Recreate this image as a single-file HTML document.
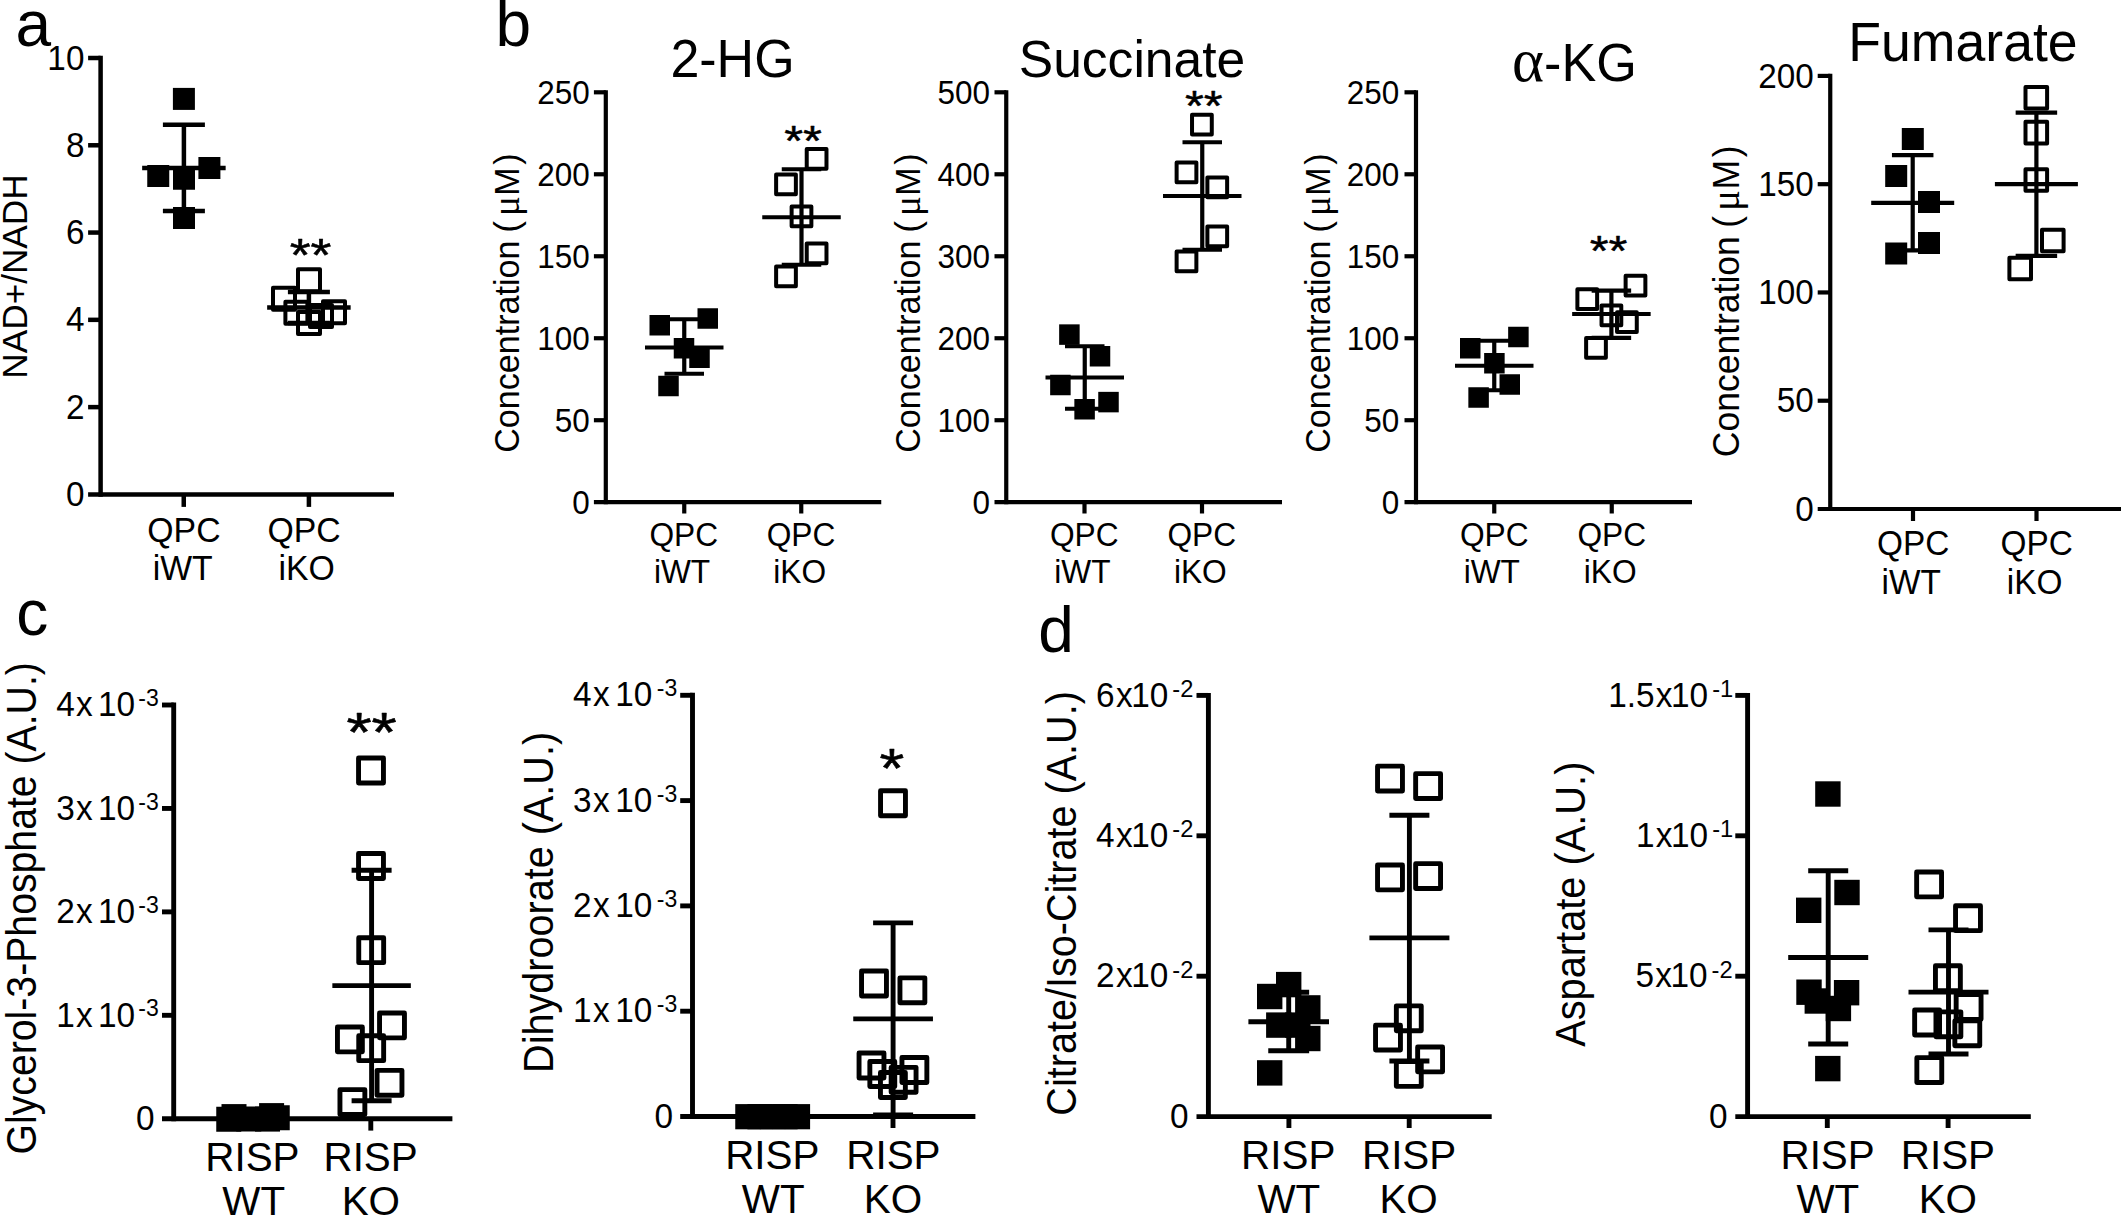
<!DOCTYPE html>
<html lang="en">
<head>
<meta charset="utf-8">
<title>Figure: NAD+/NADH, TCA metabolites, RISP KO</title>
<style>
html,body{margin:0;padding:0;background:#fff;}
body{width:2121px;height:1217px;overflow:hidden;}
svg{display:block;}
svg text{font-family:'Liberation Sans', Arial, Helvetica, sans-serif;fill:#000;}
svg line, svg rect{stroke:#000;}
svg rect[fill="#000"]{stroke:none;}
.sym{font-family:'Liberation Serif', 'DejaVu Serif', serif;}
</style>
</head>
<body>
<svg width="2121" height="1217" viewBox="0 0 2121 1217">
<rect x="0" y="0" width="2121" height="1217" fill="#fff" stroke="none" style="stroke:none"/>
<g class="panel">
<line x1="100.6" y1="55.75" x2="100.6" y2="496.65" stroke-width="4.5"/>
<line x1="88.1" y1="494.4" x2="394" y2="494.4" stroke-width="4.5"/>
<line x1="88.1" y1="58" x2="100.6" y2="58" stroke-width="4.5"/>
<line x1="88.1" y1="145.28" x2="100.6" y2="145.28" stroke-width="4.5"/>
<line x1="88.1" y1="232.56" x2="100.6" y2="232.56" stroke-width="4.5"/>
<line x1="88.1" y1="319.84" x2="100.6" y2="319.84" stroke-width="4.5"/>
<line x1="88.1" y1="407.12" x2="100.6" y2="407.12" stroke-width="4.5"/>
<text transform="translate(84.4 69.66) scale(1 1.045)" font-size="33.3" text-anchor="end">10</text>
<text transform="translate(84.4 156.94) scale(1 1.045)" font-size="33.3" text-anchor="end">8</text>
<text transform="translate(84.4 244.22) scale(1 1.045)" font-size="33.3" text-anchor="end">6</text>
<text transform="translate(84.4 331.49) scale(1 1.045)" font-size="33.3" text-anchor="end">4</text>
<text transform="translate(84.4 418.77) scale(1 1.045)" font-size="33.3" text-anchor="end">2</text>
<text transform="translate(84.4 506.05) scale(1 1.045)" font-size="33.3" text-anchor="end">0</text>
<line x1="183.75" y1="494.4" x2="183.75" y2="506.9" stroke-width="4.5"/>
<line x1="308.9" y1="494.4" x2="308.9" y2="506.9" stroke-width="4.5"/>
<text transform="translate(183.95 541.9) scale(1 1.045)" font-size="33.8" text-anchor="middle">QPC</text>
<text transform="translate(182.66 580) scale(1 1.045)" font-size="33.8" text-anchor="middle">iWT</text>
<text transform="translate(304.05 541.9) scale(1 1.045)" font-size="33.8" text-anchor="middle">QPC</text>
<text transform="translate(306.68 580) scale(1 1.045)" font-size="33.8" text-anchor="middle">iKO</text>
<text transform="translate(27 276.5) rotate(-90) scale(1 1.020)" font-size="35.2" text-anchor="middle">NAD+/NADH</text>
<rect x="172.9" y="87.9" width="22" height="22" fill="#000"/>
<rect x="147.25" y="165" width="22" height="22" fill="#000"/>
<rect x="173" y="167.75" width="22" height="22" fill="#000"/>
<rect x="198.4" y="157" width="22" height="22" fill="#000"/>
<rect x="173" y="207" width="22" height="22" fill="#000"/>
<rect x="298" y="269.25" width="22" height="22" fill="none" stroke-width="4" stroke-linejoin="round"/>
<rect x="273" y="287.8" width="22" height="22" fill="none" stroke-width="4" stroke-linejoin="round"/>
<rect x="285.4" y="301.75" width="22" height="22" fill="none" stroke-width="4" stroke-linejoin="round"/>
<rect x="298" y="312" width="22" height="22" fill="none" stroke-width="4" stroke-linejoin="round"/>
<rect x="310" y="305" width="22" height="22" fill="none" stroke-width="4" stroke-linejoin="round"/>
<rect x="323" y="301.25" width="22" height="22" fill="none" stroke-width="4" stroke-linejoin="round"/>
<line x1="183.9" y1="124.8" x2="183.9" y2="211" stroke-width="4.5"/>
<line x1="162.9" y1="124.8" x2="204.9" y2="124.8" stroke-width="4.5"/>
<line x1="162.9" y1="211" x2="204.9" y2="211" stroke-width="4.5"/>
<line x1="142.15" y1="167.9" x2="225.65" y2="167.9" stroke-width="4.5"/>
<line x1="308.9" y1="291.9" x2="308.9" y2="322.9" stroke-width="4.5"/>
<line x1="287.9" y1="291.9" x2="329.9" y2="291.9" stroke-width="4.5"/>
<line x1="287.9" y1="322.9" x2="329.9" y2="322.9" stroke-width="4.5"/>
<line x1="267.15" y1="307.4" x2="350.65" y2="307.4" stroke-width="4.5"/>
<text transform="translate(310.6 270.6) scale(1 0.870)" font-size="53.6" text-anchor="middle" stroke="#000" stroke-width="0.59" stroke-linejoin="round">**</text>
</g>
<g class="panel">
<line x1="605.8" y1="90.2" x2="605.8" y2="504.3" stroke-width="4.2"/>
<line x1="593.9" y1="502.2" x2="881.25" y2="502.2" stroke-width="4.2"/>
<line x1="593.9" y1="92.3" x2="605.8" y2="92.3" stroke-width="4.2"/>
<line x1="593.9" y1="174.28" x2="605.8" y2="174.28" stroke-width="4.2"/>
<line x1="593.9" y1="256.26" x2="605.8" y2="256.26" stroke-width="4.2"/>
<line x1="593.9" y1="338.24" x2="605.8" y2="338.24" stroke-width="4.2"/>
<line x1="593.9" y1="420.22" x2="605.8" y2="420.22" stroke-width="4.2"/>
<text transform="translate(589.7 103.7) scale(1 1.045)" font-size="31.5" text-anchor="end">250</text>
<text transform="translate(589.7 185.68) scale(1 1.045)" font-size="31.5" text-anchor="end">200</text>
<text transform="translate(589.7 267.66) scale(1 1.045)" font-size="31.5" text-anchor="end">150</text>
<text transform="translate(589.7 349.64) scale(1 1.045)" font-size="31.5" text-anchor="end">100</text>
<text transform="translate(589.7 431.62) scale(1 1.045)" font-size="31.5" text-anchor="end">50</text>
<text transform="translate(589.7 513.6) scale(1 1.045)" font-size="31.5" text-anchor="end">0</text>
<line x1="684.25" y1="502.2" x2="684.25" y2="513.5" stroke-width="4.2"/>
<line x1="801.25" y1="502.2" x2="801.25" y2="513.5" stroke-width="4.2"/>
<text transform="translate(683.76 546) scale(1 1.045)" font-size="31.7" text-anchor="middle">QPC</text>
<text transform="translate(682.05 582.75) scale(1 1.045)" font-size="31.7" text-anchor="middle">iWT</text>
<text transform="translate(800.96 546) scale(1 1.045)" font-size="31.7" text-anchor="middle">QPC</text>
<text transform="translate(799.7 582.75) scale(1 1.045)" font-size="31.7" text-anchor="middle">iKO</text>
<text transform="translate(519.4 303.1) rotate(-90) scale(1 1.040)" font-size="34.1" text-anchor="middle">Concentration<tspan dx="-1.30"> (</tspan><tspan class="sym" dx="5.00" font-size="1.083em">μ</tspan><tspan dx="0.60">M</tspan><tspan dx="2.50">)</tspan></text>
<text transform="translate(732.5 77.4) scale(1 1.020)" font-size="52" text-anchor="middle">2-HG</text>
<rect x="649.5" y="315" width="20.5" height="20.5" fill="#000"/>
<rect x="697.5" y="308.25" width="20.5" height="20.5" fill="#000"/>
<rect x="673.75" y="338" width="20.5" height="20.5" fill="#000"/>
<rect x="689.25" y="347.5" width="20.5" height="20.5" fill="#000"/>
<rect x="658.25" y="375.75" width="20.5" height="20.5" fill="#000"/>
<rect x="806.73" y="148.88" width="19.75" height="19.75" fill="none" stroke-width="4" stroke-linejoin="round"/>
<rect x="776.12" y="174.38" width="19.75" height="19.75" fill="none" stroke-width="4" stroke-linejoin="round"/>
<rect x="791.62" y="206.38" width="19.75" height="19.75" fill="none" stroke-width="4" stroke-linejoin="round"/>
<rect x="806.73" y="243.38" width="19.75" height="19.75" fill="none" stroke-width="4" stroke-linejoin="round"/>
<rect x="776.12" y="266.38" width="19.75" height="19.75" fill="none" stroke-width="4" stroke-linejoin="round"/>
<line x1="684.25" y1="319.25" x2="684.25" y2="373.75" stroke-width="4.2"/>
<line x1="664.5" y1="319.25" x2="704" y2="319.25" stroke-width="4.2"/>
<line x1="664.5" y1="373.75" x2="704" y2="373.75" stroke-width="4.2"/>
<line x1="645" y1="347.5" x2="723.5" y2="347.5" stroke-width="4.2"/>
<line x1="801.5" y1="169.25" x2="801.5" y2="264.75" stroke-width="4.2"/>
<line x1="781.75" y1="169.25" x2="821.25" y2="169.25" stroke-width="4.2"/>
<line x1="781.75" y1="264.75" x2="821.25" y2="264.75" stroke-width="4.2"/>
<line x1="762.25" y1="217.25" x2="840.75" y2="217.25" stroke-width="4.2"/>
<text transform="translate(803 155) scale(1 0.870)" font-size="48.4" text-anchor="middle" stroke="#000" stroke-width="0.53" stroke-linejoin="round">**</text>
</g>
<g class="panel">
<line x1="1006.25" y1="90.2" x2="1006.25" y2="504.3" stroke-width="4.2"/>
<line x1="994.5" y1="502.2" x2="1282" y2="502.2" stroke-width="4.2"/>
<line x1="994.5" y1="92.3" x2="1006.25" y2="92.3" stroke-width="4.2"/>
<line x1="994.5" y1="174.28" x2="1006.25" y2="174.28" stroke-width="4.2"/>
<line x1="994.5" y1="256.26" x2="1006.25" y2="256.26" stroke-width="4.2"/>
<line x1="994.5" y1="338.24" x2="1006.25" y2="338.24" stroke-width="4.2"/>
<line x1="994.5" y1="420.22" x2="1006.25" y2="420.22" stroke-width="4.2"/>
<text transform="translate(990 103.7) scale(1 1.045)" font-size="31.5" text-anchor="end">500</text>
<text transform="translate(990 185.68) scale(1 1.045)" font-size="31.5" text-anchor="end">400</text>
<text transform="translate(990 267.66) scale(1 1.045)" font-size="31.5" text-anchor="end">300</text>
<text transform="translate(990 349.64) scale(1 1.045)" font-size="31.5" text-anchor="end">200</text>
<text transform="translate(990 431.62) scale(1 1.045)" font-size="31.5" text-anchor="end">100</text>
<text transform="translate(990 513.6) scale(1 1.045)" font-size="31.5" text-anchor="end">0</text>
<line x1="1084.5" y1="502.2" x2="1084.5" y2="513.5" stroke-width="4.2"/>
<line x1="1202" y1="502.2" x2="1202" y2="513.5" stroke-width="4.2"/>
<text transform="translate(1084.26 546) scale(1 1.045)" font-size="31.7" text-anchor="middle">QPC</text>
<text transform="translate(1082.4 582.75) scale(1 1.045)" font-size="31.7" text-anchor="middle">iWT</text>
<text transform="translate(1201.76 546) scale(1 1.045)" font-size="31.7" text-anchor="middle">QPC</text>
<text transform="translate(1200.3 582.75) scale(1 1.045)" font-size="31.7" text-anchor="middle">iKO</text>
<text transform="translate(920 303.1) rotate(-90) scale(1 1.040)" font-size="34.1" text-anchor="middle">Concentration<tspan dx="-1.30"> (</tspan><tspan class="sym" dx="5.00" font-size="1.083em">μ</tspan><tspan dx="0.60">M</tspan><tspan dx="2.50">)</tspan></text>
<text transform="translate(1132 77) scale(1 1.020)" font-size="51.6" text-anchor="middle">Succinate</text>
<rect x="1059.15" y="324.35" width="20.5" height="20.5" fill="#000"/>
<rect x="1089.75" y="346" width="20.5" height="20.5" fill="#000"/>
<rect x="1050.15" y="374.75" width="20.5" height="20.5" fill="#000"/>
<rect x="1098.25" y="391.85" width="20.5" height="20.5" fill="#000"/>
<rect x="1074.35" y="399" width="20.5" height="20.5" fill="#000"/>
<rect x="1192.03" y="114.72" width="19.75" height="19.75" fill="none" stroke-width="4" stroke-linejoin="round"/>
<rect x="1176.62" y="162.62" width="19.75" height="19.75" fill="none" stroke-width="4" stroke-linejoin="round"/>
<rect x="1207.38" y="177.62" width="19.75" height="19.75" fill="none" stroke-width="4" stroke-linejoin="round"/>
<rect x="1207.38" y="226.38" width="19.75" height="19.75" fill="none" stroke-width="4" stroke-linejoin="round"/>
<rect x="1176.62" y="251.38" width="19.75" height="19.75" fill="none" stroke-width="4" stroke-linejoin="round"/>
<line x1="1084.75" y1="346.25" x2="1084.75" y2="408.75" stroke-width="4.2"/>
<line x1="1065" y1="346.25" x2="1104.5" y2="346.25" stroke-width="4.2"/>
<line x1="1065" y1="408.75" x2="1104.5" y2="408.75" stroke-width="4.2"/>
<line x1="1045.5" y1="377.5" x2="1124" y2="377.5" stroke-width="4.2"/>
<line x1="1202.25" y1="142.25" x2="1202.25" y2="249.75" stroke-width="4.2"/>
<line x1="1182.5" y1="142.25" x2="1222" y2="142.25" stroke-width="4.2"/>
<line x1="1182.5" y1="249.75" x2="1222" y2="249.75" stroke-width="4.2"/>
<line x1="1163" y1="196" x2="1241.5" y2="196" stroke-width="4.2"/>
<text transform="translate(1203.75 120) scale(1 0.870)" font-size="48.4" text-anchor="middle" stroke="#000" stroke-width="0.53" stroke-linejoin="round">**</text>
</g>
<g class="panel">
<line x1="1416" y1="90.2" x2="1416" y2="504.3" stroke-width="4.2"/>
<line x1="1404.5" y1="502.2" x2="1692" y2="502.2" stroke-width="4.2"/>
<line x1="1404.5" y1="92.3" x2="1416" y2="92.3" stroke-width="4.2"/>
<line x1="1404.5" y1="174.28" x2="1416" y2="174.28" stroke-width="4.2"/>
<line x1="1404.5" y1="256.26" x2="1416" y2="256.26" stroke-width="4.2"/>
<line x1="1404.5" y1="338.24" x2="1416" y2="338.24" stroke-width="4.2"/>
<line x1="1404.5" y1="420.22" x2="1416" y2="420.22" stroke-width="4.2"/>
<text transform="translate(1399.3 103.7) scale(1 1.045)" font-size="31.5" text-anchor="end">250</text>
<text transform="translate(1399.3 185.68) scale(1 1.045)" font-size="31.5" text-anchor="end">200</text>
<text transform="translate(1399.3 267.66) scale(1 1.045)" font-size="31.5" text-anchor="end">150</text>
<text transform="translate(1399.3 349.64) scale(1 1.045)" font-size="31.5" text-anchor="end">100</text>
<text transform="translate(1399.3 431.62) scale(1 1.045)" font-size="31.5" text-anchor="end">50</text>
<text transform="translate(1399.3 513.6) scale(1 1.045)" font-size="31.5" text-anchor="end">0</text>
<line x1="1494.25" y1="502.2" x2="1494.25" y2="513.5" stroke-width="4.2"/>
<line x1="1611.75" y1="502.2" x2="1611.75" y2="513.5" stroke-width="4.2"/>
<text transform="translate(1494.26 546) scale(1 1.045)" font-size="31.7" text-anchor="middle">QPC</text>
<text transform="translate(1491.8 582.75) scale(1 1.045)" font-size="31.7" text-anchor="middle">iWT</text>
<text transform="translate(1611.76 546) scale(1 1.045)" font-size="31.7" text-anchor="middle">QPC</text>
<text transform="translate(1610.2 582.75) scale(1 1.045)" font-size="31.7" text-anchor="middle">iKO</text>
<text transform="translate(1330 303.1) rotate(-90) scale(1 1.040)" font-size="34.1" text-anchor="middle">Concentration<tspan dx="-1.30"> (</tspan><tspan class="sym" dx="5.00" font-size="1.083em">μ</tspan><tspan dx="0.60">M</tspan><tspan dx="2.50">)</tspan></text>
<text transform="translate(1574.5 81.25) scale(1 1.020)" font-size="52.2" text-anchor="middle"><tspan class="sym" font-size="1.17em">α</tspan>-KG</text>
<rect x="1460" y="338" width="20.5" height="20.5" fill="#000"/>
<rect x="1508.15" y="326.75" width="20.5" height="20.5" fill="#000"/>
<rect x="1484.15" y="353" width="20.5" height="20.5" fill="#000"/>
<rect x="1499.5" y="374.25" width="20.5" height="20.5" fill="#000"/>
<rect x="1468.35" y="387.25" width="20.5" height="20.5" fill="#000"/>
<rect x="1625.62" y="275.73" width="19.75" height="19.75" fill="none" stroke-width="4" stroke-linejoin="round"/>
<rect x="1577.38" y="289.23" width="19.75" height="19.75" fill="none" stroke-width="4" stroke-linejoin="round"/>
<rect x="1601.53" y="305.52" width="19.75" height="19.75" fill="none" stroke-width="4" stroke-linejoin="round"/>
<rect x="1617.03" y="312.23" width="19.75" height="19.75" fill="none" stroke-width="4" stroke-linejoin="round"/>
<rect x="1586.12" y="338.12" width="19.75" height="19.75" fill="none" stroke-width="4" stroke-linejoin="round"/>
<line x1="1494.25" y1="340.75" x2="1494.25" y2="390.25" stroke-width="4.2"/>
<line x1="1474.5" y1="340.75" x2="1514" y2="340.75" stroke-width="4.2"/>
<line x1="1474.5" y1="390.25" x2="1514" y2="390.25" stroke-width="4.2"/>
<line x1="1455" y1="365.75" x2="1533.5" y2="365.75" stroke-width="4.2"/>
<line x1="1611.4" y1="290.7" x2="1611.4" y2="337.8" stroke-width="4.2"/>
<line x1="1591.65" y1="290.7" x2="1631.15" y2="290.7" stroke-width="4.2"/>
<line x1="1591.65" y1="337.8" x2="1631.15" y2="337.8" stroke-width="4.2"/>
<line x1="1572.15" y1="314" x2="1650.65" y2="314" stroke-width="4.2"/>
<text transform="translate(1608.5 264.6) scale(1 0.870)" font-size="48.4" text-anchor="middle" stroke="#000" stroke-width="0.53" stroke-linejoin="round">**</text>
</g>
<g class="panel">
<line x1="1830.25" y1="73.8" x2="1830.25" y2="511.1" stroke-width="4.2"/>
<line x1="1817.7" y1="509" x2="2123" y2="509" stroke-width="4.2"/>
<line x1="1817.7" y1="75.9" x2="1830.25" y2="75.9" stroke-width="4.2"/>
<line x1="1817.7" y1="184.18" x2="1830.25" y2="184.18" stroke-width="4.2"/>
<line x1="1817.7" y1="292.45" x2="1830.25" y2="292.45" stroke-width="4.2"/>
<line x1="1817.7" y1="400.73" x2="1830.25" y2="400.73" stroke-width="4.2"/>
<text transform="translate(1813.8 87.56) scale(1 1.045)" font-size="33.3" text-anchor="end">200</text>
<text transform="translate(1813.8 195.83) scale(1 1.045)" font-size="33.3" text-anchor="end">150</text>
<text transform="translate(1813.8 304.11) scale(1 1.045)" font-size="33.3" text-anchor="end">100</text>
<text transform="translate(1813.8 412.38) scale(1 1.045)" font-size="33.3" text-anchor="end">50</text>
<text transform="translate(1813.8 520.65) scale(1 1.045)" font-size="33.3" text-anchor="end">0</text>
<line x1="1913" y1="509" x2="1913" y2="521" stroke-width="4.2"/>
<line x1="2036.5" y1="509" x2="2036.5" y2="521" stroke-width="4.2"/>
<text transform="translate(1913.1 555.25) scale(1 1.045)" font-size="33.4" text-anchor="middle">QPC</text>
<text transform="translate(1911.17 593.5) scale(1 1.045)" font-size="33.4" text-anchor="middle">iWT</text>
<text transform="translate(2036.75 555.25) scale(1 1.045)" font-size="33.4" text-anchor="middle">QPC</text>
<text transform="translate(2034.68 593.5) scale(1 1.045)" font-size="33.4" text-anchor="middle">iKO</text>
<text transform="translate(1739 301.3) rotate(-90) scale(1 1.020)" font-size="35.5" text-anchor="middle">Concentration<tspan dx="-1.35"> (</tspan><tspan class="sym" dx="5.20" font-size="1.083em">μ</tspan><tspan dx="0.62">M</tspan><tspan dx="2.60">)</tspan></text>
<text transform="translate(1963 60.5) scale(1 1.020)" font-size="53.6" text-anchor="middle">Fumarate</text>
<rect x="1901.8" y="128" width="22" height="22" fill="#000"/>
<rect x="1885.2" y="165" width="22" height="22" fill="#000"/>
<rect x="1918" y="191" width="22" height="22" fill="#000"/>
<rect x="1918" y="232" width="22" height="22" fill="#000"/>
<rect x="1885.2" y="242.5" width="22" height="22" fill="#000"/>
<rect x="2025.5" y="87" width="21.6" height="21.6" fill="none" stroke-width="4" stroke-linejoin="round"/>
<rect x="2025.5" y="121.8" width="21.6" height="21.6" fill="none" stroke-width="4" stroke-linejoin="round"/>
<rect x="2025.5" y="169.2" width="21.6" height="21.6" fill="none" stroke-width="4" stroke-linejoin="round"/>
<rect x="2042" y="229.7" width="21.6" height="21.6" fill="none" stroke-width="4" stroke-linejoin="round"/>
<rect x="2009.4" y="257.7" width="21.6" height="21.6" fill="none" stroke-width="4" stroke-linejoin="round"/>
<line x1="1912.7" y1="155.2" x2="1912.7" y2="250.4" stroke-width="4.2"/>
<line x1="1891.95" y1="155.2" x2="1933.45" y2="155.2" stroke-width="4.2"/>
<line x1="1891.95" y1="250.4" x2="1933.45" y2="250.4" stroke-width="4.2"/>
<line x1="1871.2" y1="202.8" x2="1954.2" y2="202.8" stroke-width="4.2"/>
<line x1="2036.4" y1="112.6" x2="2036.4" y2="255.8" stroke-width="4.2"/>
<line x1="2015.65" y1="112.6" x2="2057.15" y2="112.6" stroke-width="4.2"/>
<line x1="2015.65" y1="255.8" x2="2057.15" y2="255.8" stroke-width="4.2"/>
<line x1="1994.9" y1="184.2" x2="2077.9" y2="184.2" stroke-width="4.2"/>
</g>
<g class="panel">
<line x1="173.7" y1="702.55" x2="173.7" y2="1121.2" stroke-width="4.9"/>
<line x1="162" y1="1118.75" x2="452.4" y2="1118.75" stroke-width="4.9"/>
<line x1="162" y1="705" x2="173.7" y2="705" stroke-width="4.9"/>
<line x1="162" y1="808.44" x2="173.7" y2="808.44" stroke-width="4.9"/>
<line x1="162" y1="911.88" x2="173.7" y2="911.88" stroke-width="4.9"/>
<line x1="162" y1="1015.31" x2="173.7" y2="1015.31" stroke-width="4.9"/>
<text transform="translate(158.8 716.19) scale(1 1.045)" font-size="33.4" text-anchor="end">4<tspan dx="1.3">x</tspan><tspan dx="5.2">10</tspan><tspan dx="3.25" dy="-9.69" font-size="23.05">-3</tspan></text>
<text transform="translate(158.8 819.63) scale(1 1.045)" font-size="33.4" text-anchor="end">3<tspan dx="1.3">x</tspan><tspan dx="5.2">10</tspan><tspan dx="3.25" dy="-9.69" font-size="23.05">-3</tspan></text>
<text transform="translate(158.8 923.06) scale(1 1.045)" font-size="33.4" text-anchor="end">2<tspan dx="1.3">x</tspan><tspan dx="5.2">10</tspan><tspan dx="3.25" dy="-9.69" font-size="23.05">-3</tspan></text>
<text transform="translate(158.8 1026.5) scale(1 1.045)" font-size="33.4" text-anchor="end">1<tspan dx="1.3">x</tspan><tspan dx="5.2">10</tspan><tspan dx="3.25" dy="-9.69" font-size="23.05">-3</tspan></text>
<text transform="translate(154.5 1129.94) scale(1 1.045)" font-size="33.4" text-anchor="end">0</text>
<line x1="253" y1="1118.75" x2="253" y2="1130.6" stroke-width="4.9"/>
<line x1="370.8" y1="1118.75" x2="370.8" y2="1130.6" stroke-width="4.9"/>
<text transform="translate(252.41 1170.9) scale(1 1.010)" font-size="40.4" text-anchor="middle">RISP</text>
<text transform="translate(253.66 1215.4) scale(1 1.010)" font-size="40.4" text-anchor="middle">WT</text>
<text transform="translate(370.61 1170.9) scale(1 1.010)" font-size="40.4" text-anchor="middle">RISP</text>
<text transform="translate(370.86 1215.4) scale(1 1.010)" font-size="40.4" text-anchor="middle">KO</text>
<text transform="translate(36.25 908.3) rotate(-90) scale(1 1.075)" font-size="39.2" text-anchor="middle">Glycerol-3-Phosphate (A.U.)</text>
<rect x="216.25" y="1106.75" width="25" height="25" fill="#000"/>
<rect x="221.5" y="1104.1" width="25" height="25" fill="#000"/>
<rect x="236.25" y="1106.5" width="25" height="25" fill="#000"/>
<rect x="255" y="1106.6" width="25" height="25" fill="#000"/>
<rect x="259.1" y="1103.1" width="25" height="25" fill="#000"/>
<rect x="264.75" y="1105.25" width="25" height="25" fill="#000"/>
<rect x="358.55" y="758.05" width="24.9" height="24.9" fill="none" stroke-width="4.9" stroke-linejoin="round"/>
<rect x="358.55" y="853.55" width="24.9" height="24.9" fill="none" stroke-width="4.9" stroke-linejoin="round"/>
<rect x="358.75" y="937.75" width="24.9" height="24.9" fill="none" stroke-width="4.9" stroke-linejoin="round"/>
<rect x="379.55" y="1012.95" width="24.9" height="24.9" fill="none" stroke-width="4.9" stroke-linejoin="round"/>
<rect x="337.45" y="1026.95" width="24.9" height="24.9" fill="none" stroke-width="4.9" stroke-linejoin="round"/>
<rect x="358.75" y="1035.75" width="24.9" height="24.9" fill="none" stroke-width="4.9" stroke-linejoin="round"/>
<rect x="377.05" y="1070.35" width="24.9" height="24.9" fill="none" stroke-width="4.9" stroke-linejoin="round"/>
<rect x="339.95" y="1089.65" width="24.9" height="24.9" fill="none" stroke-width="4.9" stroke-linejoin="round"/>
<line x1="371.6" y1="870.25" x2="371.6" y2="1100.8" stroke-width="4.9"/>
<line x1="351.6" y1="870.25" x2="391.6" y2="870.25" stroke-width="4.9"/>
<line x1="351.6" y1="1100.8" x2="391.6" y2="1100.8" stroke-width="4.9"/>
<line x1="332.35" y1="985.6" x2="410.85" y2="985.6" stroke-width="4.9"/>
<text transform="translate(371.6 750.5) scale(1 0.870)" font-size="64.7" text-anchor="middle" stroke="#000" stroke-width="0.71" stroke-linejoin="round">**</text>
</g>
<g class="panel">
<line x1="692.5" y1="692.85" x2="692.5" y2="1118.95" stroke-width="4.9"/>
<line x1="680.2" y1="1116.5" x2="975.4" y2="1116.5" stroke-width="4.9"/>
<line x1="680.2" y1="695.3" x2="692.5" y2="695.3" stroke-width="4.9"/>
<line x1="680.2" y1="800.6" x2="692.5" y2="800.6" stroke-width="4.9"/>
<line x1="680.2" y1="905.9" x2="692.5" y2="905.9" stroke-width="4.9"/>
<line x1="680.2" y1="1011.2" x2="692.5" y2="1011.2" stroke-width="4.9"/>
<text transform="translate(677.2 706.49) scale(1 1.045)" font-size="33.4" text-anchor="end">4<tspan dx="1.5">x</tspan><tspan dx="5.4">10</tspan><tspan dx="4.45" dy="-9.69" font-size="23.05">-3</tspan></text>
<text transform="translate(677.2 811.79) scale(1 1.045)" font-size="33.4" text-anchor="end">3<tspan dx="1.5">x</tspan><tspan dx="5.4">10</tspan><tspan dx="4.45" dy="-9.69" font-size="23.05">-3</tspan></text>
<text transform="translate(677.2 917.09) scale(1 1.045)" font-size="33.4" text-anchor="end">2<tspan dx="1.5">x</tspan><tspan dx="5.4">10</tspan><tspan dx="4.45" dy="-9.69" font-size="23.05">-3</tspan></text>
<text transform="translate(677.2 1022.39) scale(1 1.045)" font-size="33.4" text-anchor="end">1<tspan dx="1.5">x</tspan><tspan dx="5.4">10</tspan><tspan dx="4.45" dy="-9.69" font-size="23.05">-3</tspan></text>
<text transform="translate(673 1127.69) scale(1 1.045)" font-size="33.4" text-anchor="end">0</text>
<line x1="772.7" y1="1116.5" x2="772.7" y2="1128" stroke-width="4.9"/>
<line x1="893" y1="1116.5" x2="893" y2="1128" stroke-width="4.9"/>
<text transform="translate(772.31 1168.7) scale(1 1.010)" font-size="40.4" text-anchor="middle">RISP</text>
<text transform="translate(773.16 1213.4) scale(1 1.010)" font-size="40.4" text-anchor="middle">WT</text>
<text transform="translate(893.41 1168.7) scale(1 1.010)" font-size="40.4" text-anchor="middle">RISP</text>
<text transform="translate(893.01 1213.4) scale(1 1.010)" font-size="40.4" text-anchor="middle">KO</text>
<text transform="translate(552.8 902.4) rotate(-90) scale(1 1.090)" font-size="39.6" text-anchor="middle">Dihydroorate (A.U.)</text>
<rect x="735.25" y="1104.1" width="25.2" height="25.2" fill="#000"/>
<rect x="747.4" y="1104.1" width="25.2" height="25.2" fill="#000"/>
<rect x="759.9" y="1104.1" width="25.2" height="25.2" fill="#000"/>
<rect x="772.4" y="1104.1" width="25.2" height="25.2" fill="#000"/>
<rect x="784.9" y="1104.1" width="25.2" height="25.2" fill="#000"/>
<rect x="880.55" y="790.8" width="24.9" height="24.9" fill="none" stroke-width="4.9" stroke-linejoin="round"/>
<rect x="861.55" y="971.05" width="24.9" height="24.9" fill="none" stroke-width="4.9" stroke-linejoin="round"/>
<rect x="899.95" y="977.85" width="24.9" height="24.9" fill="none" stroke-width="4.9" stroke-linejoin="round"/>
<rect x="859.05" y="1053.05" width="24.9" height="24.9" fill="none" stroke-width="4.9" stroke-linejoin="round"/>
<rect x="901.95" y="1057.55" width="24.9" height="24.9" fill="none" stroke-width="4.9" stroke-linejoin="round"/>
<rect x="869.85" y="1061.55" width="24.9" height="24.9" fill="none" stroke-width="4.9" stroke-linejoin="round"/>
<rect x="891.15" y="1067.35" width="24.9" height="24.9" fill="none" stroke-width="4.9" stroke-linejoin="round"/>
<rect x="880.45" y="1072.55" width="24.9" height="24.9" fill="none" stroke-width="4.9" stroke-linejoin="round"/>
<line x1="893.1" y1="922.9" x2="893.1" y2="1114.9" stroke-width="4.9"/>
<line x1="873.1" y1="922.9" x2="913.1" y2="922.9" stroke-width="4.9"/>
<line x1="873.1" y1="1114.9" x2="913.1" y2="1114.9" stroke-width="4.9"/>
<line x1="853.25" y1="1018.9" x2="932.95" y2="1018.9" stroke-width="4.9"/>
<text transform="translate(891.9 787.2) scale(1 0.870)" font-size="63.5" text-anchor="middle" stroke="#000" stroke-width="0.7" stroke-linejoin="round">*</text>
</g>
<g class="panel">
<line x1="1208.4" y1="692.95" x2="1208.4" y2="1119.05" stroke-width="4.9"/>
<line x1="1196.5" y1="1116.6" x2="1491.7" y2="1116.6" stroke-width="4.9"/>
<line x1="1196.5" y1="695.4" x2="1208.4" y2="695.4" stroke-width="4.9"/>
<line x1="1196.5" y1="835.8" x2="1208.4" y2="835.8" stroke-width="4.9"/>
<line x1="1196.5" y1="976.2" x2="1208.4" y2="976.2" stroke-width="4.9"/>
<text transform="translate(1193.45 706.59) scale(1 1.045)" font-size="33.4" text-anchor="end">6<tspan dx="1.4">x</tspan><tspan dx="-1.55">10</tspan><tspan dx="4.1" dy="-9.19" font-size="23.71">-2</tspan></text>
<text transform="translate(1193.45 846.99) scale(1 1.045)" font-size="33.4" text-anchor="end">4<tspan dx="1.4">x</tspan><tspan dx="-1.55">10</tspan><tspan dx="4.1" dy="-9.19" font-size="23.71">-2</tspan></text>
<text transform="translate(1193.45 987.39) scale(1 1.045)" font-size="33.4" text-anchor="end">2<tspan dx="1.4">x</tspan><tspan dx="-1.55">10</tspan><tspan dx="4.1" dy="-9.19" font-size="23.71">-2</tspan></text>
<text transform="translate(1188.7 1127.79) scale(1 1.045)" font-size="33.4" text-anchor="end">0</text>
<line x1="1288.9" y1="1116.6" x2="1288.9" y2="1128" stroke-width="4.9"/>
<line x1="1409.2" y1="1116.6" x2="1409.2" y2="1128" stroke-width="4.9"/>
<text transform="translate(1288.21 1168.7) scale(1 1.010)" font-size="40.4" text-anchor="middle">RISP</text>
<text transform="translate(1288.86 1213.4) scale(1 1.010)" font-size="40.4" text-anchor="middle">WT</text>
<text transform="translate(1409.11 1168.7) scale(1 1.010)" font-size="40.4" text-anchor="middle">RISP</text>
<text transform="translate(1408.61 1213.4) scale(1 1.010)" font-size="40.4" text-anchor="middle">KO</text>
<text transform="translate(1075.7 903.4) rotate(-90) scale(1 1.080)" font-size="39.6" text-anchor="middle">Citrate/Iso-Citrate (A.U.)</text>
<rect x="1276" y="971.9" width="25.4" height="25.4" fill="#000"/>
<rect x="1257" y="983.8" width="25.4" height="25.4" fill="#000"/>
<rect x="1295.1" y="995.2" width="25.4" height="25.4" fill="#000"/>
<rect x="1266.1" y="1012.4" width="25.4" height="25.4" fill="#000"/>
<rect x="1285.1" y="1012.4" width="25.4" height="25.4" fill="#000"/>
<rect x="1295.1" y="1025.8" width="25.4" height="25.4" fill="#000"/>
<rect x="1257" y="1060.2" width="25.4" height="25.4" fill="#000"/>
<rect x="1377.55" y="766.15" width="24.9" height="24.9" fill="none" stroke-width="4.9" stroke-linejoin="round"/>
<rect x="1415.65" y="773.65" width="24.9" height="24.9" fill="none" stroke-width="4.9" stroke-linejoin="round"/>
<rect x="1377.55" y="864.95" width="24.9" height="24.9" fill="none" stroke-width="4.9" stroke-linejoin="round"/>
<rect x="1415.65" y="863.65" width="24.9" height="24.9" fill="none" stroke-width="4.9" stroke-linejoin="round"/>
<rect x="1396.35" y="1005.85" width="24.9" height="24.9" fill="none" stroke-width="4.9" stroke-linejoin="round"/>
<rect x="1375.55" y="1025.15" width="24.9" height="24.9" fill="none" stroke-width="4.9" stroke-linejoin="round"/>
<rect x="1417.65" y="1046.95" width="24.9" height="24.9" fill="none" stroke-width="4.9" stroke-linejoin="round"/>
<rect x="1396.35" y="1061.45" width="24.9" height="24.9" fill="none" stroke-width="4.9" stroke-linejoin="round"/>
<line x1="1288.7" y1="992.3" x2="1288.7" y2="1050.7" stroke-width="4.9"/>
<line x1="1268.25" y1="992.3" x2="1309.15" y2="992.3" stroke-width="4.9"/>
<line x1="1268.25" y1="1050.7" x2="1309.15" y2="1050.7" stroke-width="4.9"/>
<line x1="1248.4" y1="1021.7" x2="1329" y2="1021.7" stroke-width="4.9"/>
<line x1="1409.4" y1="815.25" x2="1409.4" y2="1061" stroke-width="4.9"/>
<line x1="1389.4" y1="815.25" x2="1429.4" y2="815.25" stroke-width="4.9"/>
<line x1="1389.4" y1="1061" x2="1429.4" y2="1061" stroke-width="4.9"/>
<line x1="1369.4" y1="937.9" x2="1449.4" y2="937.9" stroke-width="4.9"/>
</g>
<g class="panel">
<line x1="1747.6" y1="692.95" x2="1747.6" y2="1119.05" stroke-width="4.9"/>
<line x1="1735.3" y1="1116.6" x2="2030.8" y2="1116.6" stroke-width="4.9"/>
<line x1="1735.3" y1="695.4" x2="1747.6" y2="695.4" stroke-width="4.9"/>
<line x1="1735.3" y1="835.8" x2="1747.6" y2="835.8" stroke-width="4.9"/>
<line x1="1735.3" y1="976.2" x2="1747.6" y2="976.2" stroke-width="4.9"/>
<text transform="translate(1733.3 706.59) scale(1 1.045)" font-size="33.4" text-anchor="end">1.5<tspan dx="1.2">x</tspan><tspan dx="-1.55">10</tspan><tspan dx="4.1" dy="-9.19" font-size="23.71">-1</tspan></text>
<text transform="translate(1733.3 846.99) scale(1 1.045)" font-size="33.4" text-anchor="end">1<tspan dx="1.2">x</tspan><tspan dx="-1.55">10</tspan><tspan dx="4.1" dy="-9.19" font-size="23.71">-1</tspan></text>
<text transform="translate(1732.7 987.39) scale(1 1.045)" font-size="33.4" text-anchor="end">5<tspan dx="1.2">x</tspan><tspan dx="-1.55">10</tspan><tspan dx="4.1" dy="-9.19" font-size="23.71">-2</tspan></text>
<text transform="translate(1727.6 1127.79) scale(1 1.045)" font-size="33.4" text-anchor="end">0</text>
<line x1="1827.3" y1="1116.6" x2="1827.3" y2="1128" stroke-width="4.9"/>
<line x1="1948.1" y1="1116.6" x2="1948.1" y2="1128" stroke-width="4.9"/>
<text transform="translate(1827.61 1168.7) scale(1 1.010)" font-size="40.4" text-anchor="middle">RISP</text>
<text transform="translate(1827.86 1213.4) scale(1 1.010)" font-size="40.4" text-anchor="middle">WT</text>
<text transform="translate(1947.91 1168.7) scale(1 1.010)" font-size="40.4" text-anchor="middle">RISP</text>
<text transform="translate(1947.81 1213.4) scale(1 1.010)" font-size="40.4" text-anchor="middle">KO</text>
<text transform="translate(1584.6 904.2) rotate(-90) scale(1 1.080)" font-size="39.8" text-anchor="middle">Aspartate (A.U.)</text>
<rect x="1815.2" y="781.3" width="25.4" height="25.4" fill="#000"/>
<rect x="1834.3" y="879.8" width="25.4" height="25.4" fill="#000"/>
<rect x="1796" y="897.6" width="25.4" height="25.4" fill="#000"/>
<rect x="1796.3" y="979.5" width="25.4" height="25.4" fill="#000"/>
<rect x="1833.9" y="980" width="25.4" height="25.4" fill="#000"/>
<rect x="1804.6" y="988.3" width="25.4" height="25.4" fill="#000"/>
<rect x="1825.7" y="995.8" width="25.4" height="25.4" fill="#000"/>
<rect x="1815.1" y="1055.9" width="25.4" height="25.4" fill="#000"/>
<rect x="1916.65" y="871.95" width="24.9" height="24.9" fill="none" stroke-width="4.9" stroke-linejoin="round"/>
<rect x="1955.55" y="905.75" width="24.9" height="24.9" fill="none" stroke-width="4.9" stroke-linejoin="round"/>
<rect x="1935.45" y="965.75" width="24.9" height="24.9" fill="none" stroke-width="4.9" stroke-linejoin="round"/>
<rect x="1956.15" y="994.45" width="24.9" height="24.9" fill="none" stroke-width="4.9" stroke-linejoin="round"/>
<rect x="1914.65" y="1010.05" width="24.9" height="24.9" fill="none" stroke-width="4.9" stroke-linejoin="round"/>
<rect x="1935.95" y="1011.85" width="24.9" height="24.9" fill="none" stroke-width="4.9" stroke-linejoin="round"/>
<rect x="1954.85" y="1020.85" width="24.9" height="24.9" fill="none" stroke-width="4.9" stroke-linejoin="round"/>
<rect x="1916.85" y="1057.65" width="24.9" height="24.9" fill="none" stroke-width="4.9" stroke-linejoin="round"/>
<line x1="1828.2" y1="870.75" x2="1828.2" y2="1044" stroke-width="4.9"/>
<line x1="1808.2" y1="870.75" x2="1848.2" y2="870.75" stroke-width="4.9"/>
<line x1="1808.2" y1="1044" x2="1848.2" y2="1044" stroke-width="4.9"/>
<line x1="1788.2" y1="957.5" x2="1868.2" y2="957.5" stroke-width="4.9"/>
<line x1="1948.5" y1="929.9" x2="1948.5" y2="1054" stroke-width="4.9"/>
<line x1="1928.5" y1="929.9" x2="1968.5" y2="929.9" stroke-width="4.9"/>
<line x1="1928.5" y1="1054" x2="1968.5" y2="1054" stroke-width="4.9"/>
<line x1="1908.5" y1="992.1" x2="1988.5" y2="992.1" stroke-width="4.9"/>
</g>
<text transform="translate(15.5 46.3) scale(1 1.000)" font-size="64" text-anchor="start">a</text>
<text transform="translate(495.5 45.6) scale(1 1.000)" font-size="64" text-anchor="start">b</text>
<text transform="translate(16.2 635) scale(1 1.000)" font-size="64" text-anchor="start">c</text>
<text transform="translate(1038.2 652) scale(1 1.000)" font-size="64" text-anchor="start">d</text>
</svg>
</body>
</html>
